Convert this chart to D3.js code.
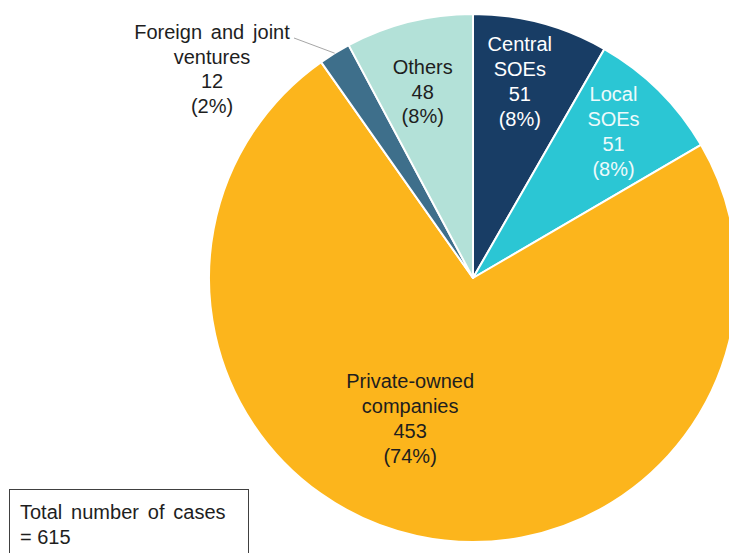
<!DOCTYPE html>
<html>
<head>
<meta charset="utf-8">
<script src="https://cdn.jsdelivr.net/npm/d3@7"></script>
<style>
  html, body { margin: 0; padding: 0; background: #fff; }
  svg { display: block; font-family: "Liberation Sans", Arial, sans-serif; }
</style>
</head>
<body>
<svg id="chart" width="729" height="553"></svg>
<script>
// Cases by type of company, clockwise from 12 o'clock
const categories = ["Central SOEs", "Local SOEs", "Private-owned companies", "Foreign and joint ventures", "Others"];
const counts = [51, 51, 453, 12, 48];
const shares = ["8%", "8%", "74%", "2%", "8%"];
const labelLines = [
  ["Central", "SOEs"],
  ["Local", "SOEs"],
  ["Private-owned", "companies"],
  ["Foreign and joint", "ventures"],
  ["Others"]
];
const totalCases = 615;

const colors = ["#183d65", "#2bc6d4", "#fcb51c", "#3e6f8b", "#b3e1d8"];
const textColors = ["#ffffff", "#eefafb", "#1e1e1e", "#1e1e1e", "#1e1e1e"];

const svg = d3.select("#chart");
const cx = 473, cy = 278, R = 264;

const pie = d3.pie().sort(null).value(d => d.value).startAngle(0).endAngle(2 * Math.PI);
const rows = categories.map((c, i) => ({ name: c, value: counts[i], i }));
const arcs = pie(rows);

const arc = d3.arc().innerRadius(0).outerRadius(R);
const g = svg.append("g").attr("transform", `translate(${cx},${cy})`);

g.selectAll("path.slice")
  .data(arcs)
  .join("path")
  .attr("class", "slice")
  .attr("d", arc)
  .attr("fill", d => colors[d.data.i])
  .attr("stroke", "#ffffff")
  .attr("stroke-width", 2)
  .attr("stroke-linejoin", "round");

// label placement: polar position (degrees clockwise from 12 o'clock, radius)
const labelPolar = [
  { a: 13.4, r: 202 },
  { a: 43.8, r: 203 },
  { a: 204.1, r: 154 },
  null,
  { a: -15.1, r: 193 }
];
const lineH = 24.8;
const fontSize = 20;
const wordGap = 3.3;

arcs.forEach(d => {
  const i = d.data.i;
  const lines = labelLines[i].concat([String(d.data.value), `(${shares[i]})`]);
  let x, y;
  if (labelPolar[i]) {
    const a = labelPolar[i].a * Math.PI / 180;
    x = Math.sin(a) * labelPolar[i].r;
    y = -Math.cos(a) * labelPolar[i].r;
  } else {
    // small slice: label outside with a leader line to the rim
    x = 212 - cx;
    y = 69 - cy;
    const mid = (d.startAngle + d.endAngle) / 2;
    const p0 = [Math.sin(mid) * R, -Math.cos(mid) * R];
    g.append("line")
      .attr("x1", 294 - cx).attr("y1", 38 - cy)
      .attr("x2", p0[0]).attr("y2", p0[1])
      .attr("stroke", "#a6a6a6")
      .attr("stroke-width", 1);
  }
  const top = y - (lines.length - 1) * lineH / 2;
  const t = g.append("text")
    .attr("text-anchor", "middle")
    .attr("font-size", fontSize)
    .attr("word-spacing", wordGap)
    .attr("fill", textColors[i]);
  lines.forEach((s, k) => {
    t.append("tspan")
      .attr("x", x)
      .attr("y", top + k * lineH + 7)
      .text(s);
  });
});

// total box
svg.append("rect")
  .attr("x", 9.5).attr("y", 489.5)
  .attr("width", 239).attr("height", 80)
  .attr("fill", "#ffffff")
  .attr("stroke", "#404040")
  .attr("stroke-width", 1);
const tt = svg.append("text")
  .attr("font-size", fontSize)
  .attr("fill", "#1e1e1e");
tt.append("tspan").attr("x", 20).attr("y", 519).attr("word-spacing", wordGap).text("Total number of cases");
tt.append("tspan").attr("x", 20).attr("y", 543.5).attr("word-spacing", 0).text(`= ${totalCases}`);
</script>
</body>
</html>
